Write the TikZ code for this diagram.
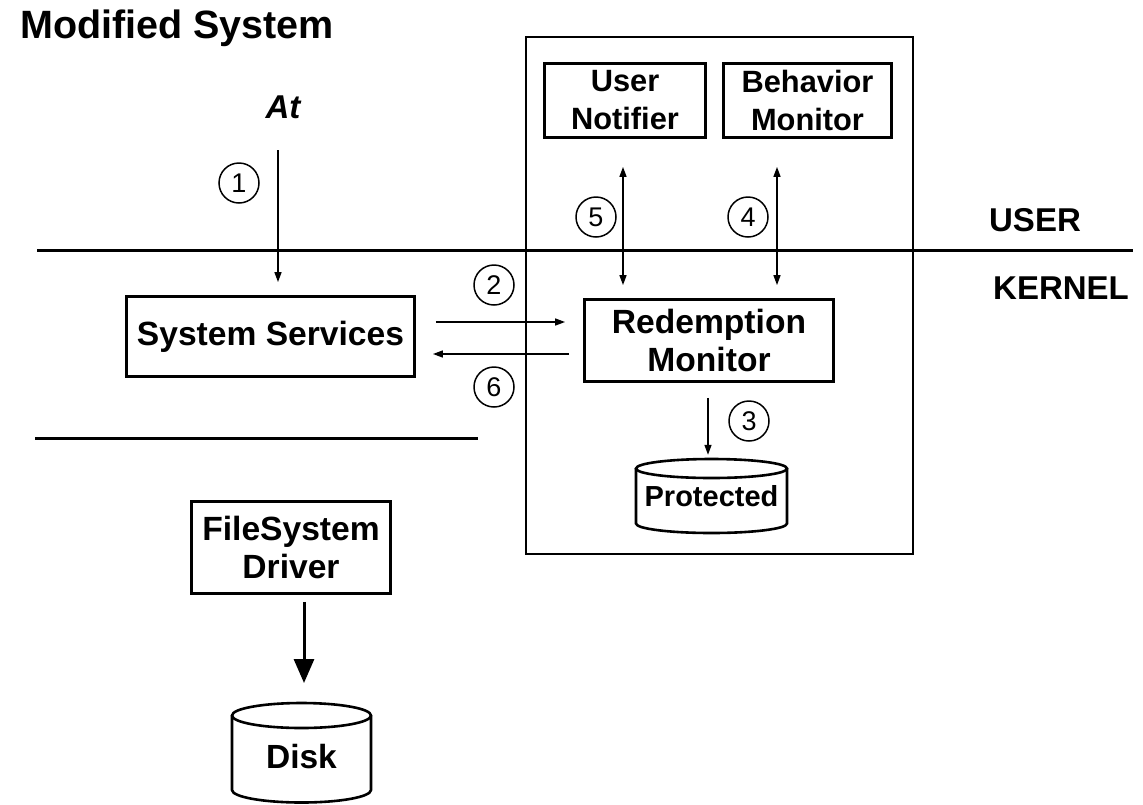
\documentclass[tikz,border=0pt]{standalone}
\usepackage{fontspec}
\setmainfont{Liberation Sans}
\usetikzlibrary{arrows.meta,calc}
\begin{document}
\begin{tikzpicture}[x=1pt,y=-1pt,
  box/.style={draw,line width=2.8pt,align=center,inner sep=0pt,
    font=\bfseries\fontsize{33.6}{38}\selectfont},
  smallbox/.style={box,font=\bfseries\fontsize{30.8}{38}\selectfont},
  num/.style={draw,circle,line width=1.5pt,minimum size=40pt,inner sep=0pt,
    font=\fontsize{27}{27}\selectfont},
  arr/.style={line width=1.5pt,-{Triangle[length=10pt,width=7pt]}},
  darr/.style={line width=1.5pt,{Triangle[length=10pt,width=7pt]}-{Triangle[length=10pt,width=7pt]}},
  bigarr/.style={line width=3pt,-{Triangle[length=24pt,width=20pt]}},
  sep/.style={line width=3pt},
  cyl/.style={line width=2.6pt},
  lbl/.style={inner sep=0pt,font=\bfseries\fontsize{33}{38}\selectfont}]
\useasboundingbox (0,0) rectangle (1143,804);

% title
\node[anchor=base west,inner sep=0pt,font=\bfseries\fontsize{39.5}{44}\selectfont]
  (title) at (20,38) {Modified System};

% container of the redemption components
\node[draw,line width=1.6pt,minimum width=387pt,minimum height=517pt] (cont) at (719.5,295.5) {};

% user / kernel boundaries
\coordinate (ul) at (37,250);
\coordinate (ur) at (1133,250);
\draw[sep] (ul) -- (ur);
\coordinate (kl) at (35,438);
\coordinate (kr) at (478,438);
\draw[sep] (kl) -- (kr);
\node[lbl] (user) at (1035,220) {USER};
\node[lbl] (kernel) at (1061,288.5) {KERNEL};

% actor
\node[anchor=base,inner sep=0pt,font=\bfseries\itshape\fontsize{33}{38}\selectfont]
  (at) at (283,118) {At};

% boxes
\node[box,minimum width=288pt,minimum height=80pt] (ss) at (270.5,336.5) {System Services};
\node[smallbox,minimum width=161pt,minimum height=74pt] (un) at (625,100.5) {User\\Notifier};
\node[smallbox,minimum width=168pt,minimum height=74pt] (bm) at (807.5,100.5) {Behavior\\Monitor};
\node[box,minimum width=249pt,minimum height=82pt] (rm) at (709,340.5) {Redemption\\Monitor};
\node[box,minimum width=199pt,minimum height=92pt] (fs) at (291,547.5) {FileSystem\\Driver};

% protected store
\node[inner sep=0pt,minimum width=151pt,minimum height=74pt,
  font=\bfseries\fontsize{29}{32}\selectfont] (prot) at (711.5,496) {Protected};
\draw[cyl] (711.5,468.5) ellipse [x radius=75.5pt,y radius=9.5pt];
\draw[cyl] (636,468.5) -- (636,523.5)
  arc[start angle=180,end angle=360,x radius=75.5pt,y radius=9.5pt] -- (787,468.5);

% disk
\node[lbl,font=\bfseries\fontsize{33.5}{38}\selectfont] (disk) at (301.5,757) {Disk};
\coordinate (disktop) at (301.5,703);
\draw[cyl] (301.5,715.5) ellipse [x radius=69.5pt,y radius=12.5pt];
\draw[cyl] (232,715.5) -- (232,790)
  arc[start angle=180,end angle=360,x radius=69.5pt,y radius=12.5pt] -- (371,715.5);

% step numbers
\node[num] (n1) at (239,183) {1};
\node[num] (n2) at (494,285) {2};
\node[num] (n3) at (749,421) {3};
\node[num] (n4) at (748,217) {4};
\node[num] (n5) at (596,217) {5};
\node[num] (n6) at (494,387) {6};

% connectors
\draw[arr] ($(at.south)+(-5,32)$) -- ($(ss.north)+(7.5,-13)$);
\draw[arr] ($(ss.east)+(20,-14.5)$) -- ($(rm.west)+(-18,-18.5)$);
\draw[arr] ($(rm.west)+(-14,13.5)$) -- ($(ss.east)+(17,17.5)$);
\draw[darr] ($(un.south)+(-2,28)$) -- ($(rm.north)+(-86,-13)$);
\draw[darr] ($(bm.south)+(-30.5,28)$) -- ($(rm.north)+(68,-13)$);
\draw[arr] ($(rm.south)+(-1,15)$) -- ($(prot.north)+(-3.5,-4)$);
\draw[bigarr] ($(fs.south)+(13,7)$) -- ($(disktop)+(2.5,-20)$);
\end{tikzpicture}
\end{document}
